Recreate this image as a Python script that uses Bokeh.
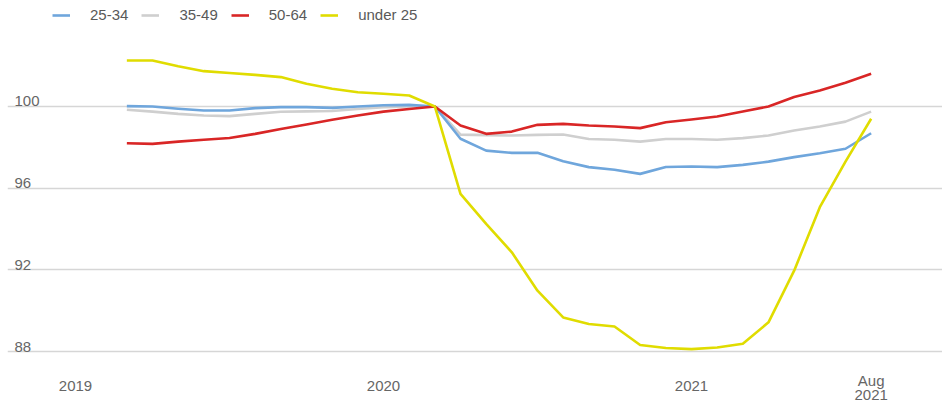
from bokeh.plotting import figure
from bokeh.models import Range1d, Grid, FixedTicker, Legend, LegendItem, ColumnDataSource
from bokeh.core.properties import value
from bokeh.embed import file_html
from bokeh.resources import INLINE

months = ["2019-03", "2019-04", "2019-05", "2019-06", "2019-07", "2019-08",
          "2019-09", "2019-10", "2019-11", "2019-12", "2020-01", "2020-02",
          "2020-03", "2020-04", "2020-05", "2020-06", "2020-07", "2020-08",
          "2020-09", "2020-10", "2020-11", "2020-12", "2021-01", "2021-02",
          "2021-03", "2021-04", "2021-05", "2021-06", "2021-07", "2021-08"]

age_25_34 = [100.02, 100.0, 99.89, 99.8, 99.8, 99.92, 99.97, 99.97, 99.93, 100.0,
             100.06, 100.08, 100.0, 98.42, 97.84, 97.73, 97.73, 97.32, 97.03, 96.9,
             96.7, 97.04, 97.06, 97.03, 97.14, 97.3, 97.52, 97.71, 97.93, 98.69]
age_35_49 = [99.84, 99.75, 99.64, 99.56, 99.53, 99.64, 99.74, 99.76, 99.78, 99.88,
             99.96, 100.0, 100.0, 98.62, 98.6, 98.58, 98.61, 98.63, 98.41, 98.37,
             98.28, 98.41, 98.41, 98.37, 98.45, 98.58, 98.82, 99.02, 99.26, 99.75]
age_50_64 = [98.2, 98.17, 98.28, 98.37, 98.46, 98.66, 98.9, 99.12, 99.35, 99.56,
             99.75, 99.88, 100.0, 99.07, 98.66, 98.77, 99.1, 99.15, 99.07, 99.02,
             98.94, 99.23, 99.36, 99.51, 99.75, 100.0, 100.46, 100.78, 101.16, 101.6]
under_25 = [102.25, 102.25, 101.97, 101.73, 101.64, 101.55, 101.44, 101.11, 100.87, 100.7,
            100.62, 100.54, 100.0, 95.72, 94.25, 92.86, 90.98, 89.67, 89.35, 89.23,
            88.32, 88.17, 88.12, 88.2, 88.38, 89.43, 91.96, 95.07, 97.3, 99.4]

y_ticks = [88, 92, 96, 100]
x_tick_months = ["2019-01", "2020-01", "2021-01", "2021-08"]
x_tick_labels = ["2019", "2020", "2021", "Aug\n2021"]

series_names = ["25-34", "35-49", "50-64", "under 25"]
series_colors = ["#6fa6dc", "#cfcfcf", "#d92626", "#e0dc00"]


def month_index(s):
    y, m = s.split("-")
    return (int(y) - 2019) * 12 + (int(m) - 1)


x = [month_index(m) for m in months]

FONT = "Liberation Sans"
TXT = "#666666"

W, H = 942, 403
LEFT = 7
x0, x1 = -2.65, 33.78
y0, y1 = 85.456, 105.19

p = figure(width=W, height=H, x_range=Range1d(x0, x1), y_range=Range1d(y0, y1),
           x_axis_type=None, y_axis_type=None, output_backend="svg",
           toolbar_location=None, min_border=0)
p.min_border_left = LEFT
p.min_border_right = p.min_border_top = p.min_border_bottom = 0
p.outline_line_color = None
p.background_fill_color = "white"
p.border_fill_color = "white"

grid = Grid(dimension=1, ticker=FixedTicker(ticks=y_ticks),
            grid_line_color="#d6d6d6", grid_line_width=1.3)
p.add_layout(grid)

# y tick labels sitting above their gridlines
ysrc = ColumnDataSource(dict(x=[x0] * len(y_ticks), y=y_ticks,
                             t=[str(v) for v in y_ticks]))
p.text(x="x", y="y", text="t", source=ysrc, x_offset=7, y_offset=-5,
       text_align="left", text_baseline="alphabetic",
       text_font=value(FONT), text_font_size="15px", text_color=TXT)

# x tick labels (multi-line labels split into rows)
lx, ly, lt, loff = [], [], [], []
for m, lab in zip(x_tick_months, x_tick_labels):
    lines = lab.split("\n")
    n = len(lines)
    for k, line in enumerate(lines):
        lx.append(month_index(m))
        ly.append(y0)
        lt.append(line)
        if n == 1:
            loff.append(-18)
        else:
            loff.append(-8.5 - 14.5 * (n - 1 - k))
xsrc = ColumnDataSource(dict(x=lx, y=ly, t=lt, off=loff))
p.text(x="x", y="y", text="t", source=xsrc, y_offset="off",
       text_align="center", text_baseline="alphabetic",
       text_font=value(FONT), text_font_size="15px", text_color=TXT)

data = [age_25_34, age_35_49, age_50_64, under_25]
renderers = {}
for idx in [1, 0, 2, 3]:
    r = p.line(x, data[idx], line_color=series_colors[idx], line_width=2.6,
               line_join="round")
    renderers[idx] = r

legend = Legend(items=[LegendItem(label=series_names[i], renderers=[renderers[i]])
                       for i in range(4)],
                orientation="horizontal", location=(45, 380),
                padding=0, margin=0, spacing=13, glyph_width=18, glyph_height=16,
                label_height=16, label_standoff=20,
                label_text_font=FONT, label_text_font_size="15px",
                label_text_color="#595959", border_line_alpha=0,
                background_fill_alpha=0)
p.add_layout(legend)

open("out.html", "w").write(file_html(p, INLINE))
